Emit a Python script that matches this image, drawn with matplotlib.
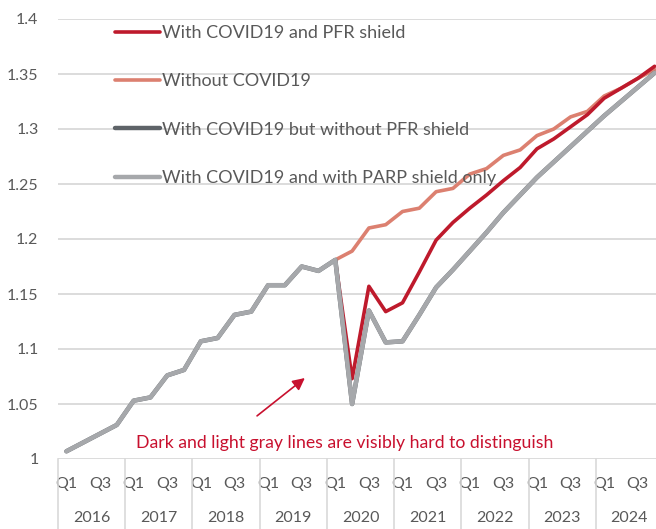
import matplotlib
matplotlib.use("Agg")
import matplotlib.pyplot as plt
import matplotlib.transforms as mtransforms
from matplotlib.lines import Line2D
import numpy as np

# ---------------- data ----------------
years = ["2016", "2017", "2018", "2019", "2020", "2021", "2022", "2023", "2024"]
quarter_labels = ["Q1", "Q3"]

# common history 2016Q1 - 2019Q4
history = [1.007, 1.015, 1.023, 1.031, 1.053, 1.056, 1.076, 1.081,
           1.107, 1.110, 1.131, 1.134, 1.158, 1.158, 1.175, 1.171]

# 2020Q1 - 2024Q4
with_pfr = [1.181, 1.073, 1.157, 1.134, 1.142, 1.170, 1.199, 1.215,
            1.228, 1.240, 1.253, 1.265, 1.282, 1.291, 1.302, 1.313,
            1.328, 1.337, 1.346, 1.357]
without_covid = [1.181, 1.189, 1.210, 1.213, 1.225, 1.228, 1.243, 1.246,
                 1.259, 1.264, 1.276, 1.281, 1.294, 1.300, 1.311, 1.316,
                 1.330, 1.337, 1.346, 1.354]
without_pfr = [1.181, 1.050, 1.135, 1.106, 1.107, 1.131, 1.156, 1.172,
               1.189, 1.206, 1.224, 1.240, 1.256, 1.270, 1.284, 1.298,
               1.312, 1.325, 1.338, 1.351]
parp_only = [1.181, 1.050, 1.135, 1.106, 1.107, 1.131, 1.156, 1.172,
             1.189, 1.206, 1.224, 1.240, 1.256, 1.270, 1.284, 1.298,
             1.312, 1.325, 1.338, 1.351]

labels = ["With COVID19 and PFR shield", "Without COVID19",
          "With COVID19 but without PFR shield", "With COVID19 and with PARP shield only"]
ytick_values = [1.0, 1.05, 1.1, 1.15, 1.2, 1.25, 1.3, 1.35, 1.4]
ytick_labels = ["1", "1.05", "1.1", "1.15", "1.2", "1.25", "1.3", "1.35", "1.4"]
annotation_text = "Dark and light gray lines are visibly hard to distinguish"

# ---------------- style ----------------
C_RED = "#be1a2c"
C_SALMON = "#dc8070"
C_DARK = "#5e6368"
C_LIGHT = "#a6a8ab"
C_TEXT = "#595959"
C_GRID = "#d9d9d9"
C_ANN = "#c8102e"
FONT = "Lato"

n_hist = len(history)
n = n_hist + len(with_pfr)
x = np.arange(n)
nan_hist = [np.nan] * n_hist

fig = plt.figure(figsize=(6.56, 5.29), dpi=100)
W, H = 656, 529
ax = fig.add_axes([58 / W, 70 / H, 605 / W, 440 / H])

ax.plot(x, nan_hist + with_pfr, color=C_RED, lw=2.6, solid_capstyle="round", zorder=3, label=labels[0])
ax.plot(x, nan_hist + without_covid, color=C_SALMON, lw=2.6, solid_capstyle="round", zorder=2, label=labels[1])
ax.plot(x, history + without_pfr, color=C_DARK, lw=3.2, solid_capstyle="round", zorder=4, label=labels[2])
ax.plot(x, history + parp_only, color=C_LIGHT, lw=3.2, solid_capstyle="round", zorder=5, label=labels[3])

ax.set_xlim(-0.5, n - 0.5)
ax.set_ylim(1.0, 1.4)
ax.set_yticks(ytick_values)
ax.set_yticklabels(ytick_labels, fontsize=11.5, color=C_TEXT, family=FONT)
ax.yaxis.grid(True, color=C_GRID, lw=1.3)
ax.set_axisbelow(True)
for s in ax.spines.values():
    s.set_visible(False)
ax.tick_params(axis="y", length=0, pad=14)

# quarter labels
qpos = [i for i in range(n) if i % 4 in (0, 2)]
ax.set_xticks(qpos)
ax.set_xticklabels([quarter_labels[(i % 4) // 2] for i in qpos], fontsize=11.5, color=C_TEXT, family=FONT)
ax.tick_params(axis="x", length=0, pad=13)

# year labels and separators
trans = mtransforms.blended_transform_factory(ax.transData, ax.transAxes)
for k, yr in enumerate(years):
    ax.text(4 * k + 1.5, -59 / 440, yr, transform=trans, ha="center", va="center",
            fontsize=11.5, color=C_TEXT, family=FONT)
for k in range(len(years) + 1):
    ax.add_line(Line2D([4 * k - 0.5, 4 * k - 0.5], [0, -75 / 440], transform=trans,
                       color=C_GRID, lw=1.2, clip_on=False))

leg = ax.legend(loc="upper left", bbox_to_anchor=(115 / W, 1 - 25 / H),
                bbox_transform=fig.transFigure, frameon=False,
                handlelength=2.5, handletextpad=0.1, labelspacing=1.79,
                borderpad=0, borderaxespad=0, prop={"family": FONT, "size": 13})
for t in leg.get_texts():
    t.set_color(C_TEXT)

# annotation
ax.annotate("", xy=(0.408, 0.184), xytext=(0.329, 0.098), xycoords="axes fraction",
            textcoords="axes fraction",
            arrowprops=dict(arrowstyle="-|>", color=C_ANN, lw=1.2, mutation_scale=18,
                            shrinkA=0, shrinkB=0))
ax.text(0.474, 0.036, annotation_text, transform=ax.transAxes, ha="center", va="center",
        fontsize=12.7, color=C_ANN, family=FONT)

fig.savefig("out.png", dpi=100)
